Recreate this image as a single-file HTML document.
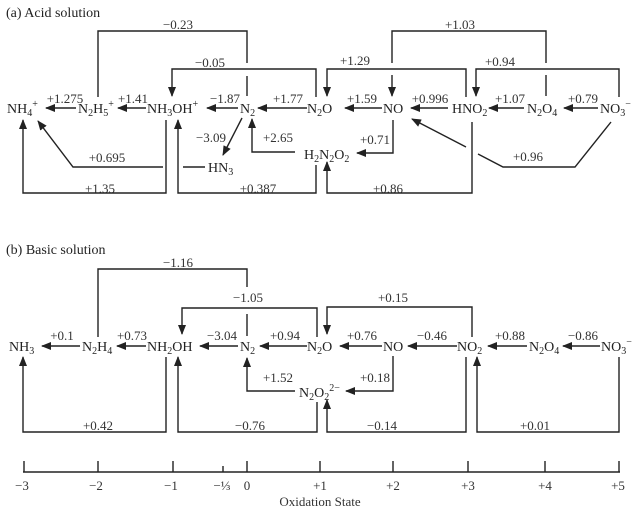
<!DOCTYPE html>
<html><head><meta charset="utf-8"><style>
html,body{margin:0;padding:0;background:#fff}
svg{display:block}
text{font-family:"Liberation Serif",serif;font-size:14px;fill:#222}
.l{font-size:13px;fill:#333}
.s{font-size:10px}
line,polyline{stroke:#222;stroke-width:1.4;fill:none}
</style></head><body>
<svg width="642" height="512" viewBox="0 0 642 512" xmlns="http://www.w3.org/2000/svg">
<defs><marker id="a" markerWidth="10" markerHeight="8" refX="9" refY="4" orient="auto" markerUnits="userSpaceOnUse"><path d="M0,0 L10,4 L0,8 z" fill="#222"/></marker></defs>

<text x="6" y="17">(a) Acid solution</text>
<!-- acid nodes -->
<text x="7" y="113">NH<tspan class="s" dy="3">4</tspan><tspan class="s" dy="-9">+</tspan></text>
<text x="78" y="113">N<tspan class="s" dy="3">2</tspan><tspan dy="-3">H</tspan><tspan class="s" dy="3">5</tspan><tspan class="s" dy="-9">+</tspan></text>
<text x="147" y="113">NH<tspan class="s" dy="3">3</tspan><tspan dy="-3">OH</tspan><tspan class="s" dy="-6">+</tspan></text>
<text x="240" y="113">N<tspan class="s" dy="3">2</tspan></text>
<text x="307" y="113">N<tspan class="s" dy="3">2</tspan><tspan dy="-3">O</tspan></text>
<text x="383" y="113">NO</text>
<text x="452" y="113">HNO<tspan class="s" dy="3">2</tspan></text>
<text x="527" y="113">N<tspan class="s" dy="3">2</tspan><tspan dy="-3">O</tspan><tspan class="s" dy="3">4</tspan></text>
<text x="600" y="113">NO<tspan class="s" dy="3">3</tspan><tspan class="s" dy="-9">−</tspan></text>
<text x="208" y="172">HN<tspan class="s" dy="3">3</tspan></text>
<text x="304" y="159">H<tspan class="s" dy="3">2</tspan><tspan dy="-3">N</tspan><tspan class="s" dy="3">2</tspan><tspan dy="-3">O</tspan><tspan class="s" dy="3">2</tspan></text>

<!-- acid row arrows -->
<line x1="76" y1="108" x2="46" y2="108" marker-end="url(#a)"/>
<line x1="146" y1="108" x2="118" y2="108" marker-end="url(#a)"/>
<line x1="238" y1="108" x2="207" y2="108" marker-end="url(#a)"/>
<line x1="307" y1="108" x2="258" y2="108" marker-end="url(#a)"/>
<line x1="382" y1="108" x2="345" y2="108" marker-end="url(#a)"/>
<line x1="448" y1="108" x2="411" y2="108" marker-end="url(#a)"/>
<line x1="524" y1="108" x2="489" y2="108" marker-end="url(#a)"/>
<line x1="598" y1="108" x2="564" y2="108" marker-end="url(#a)"/>
<g class="l" text-anchor="middle">
<text class="l" x="65" y="103">+1.275</text>
<text class="l" x="133" y="103">+1.41</text>
<text class="l" x="225" y="103">−1.87</text>
<text class="l" x="288" y="103">+1.77</text>
<text class="l" x="362" y="103">+1.59</text>
<text class="l" x="430" y="103">+0.996</text>
<text class="l" x="510" y="103">+1.07</text>
<text class="l" x="583" y="103">+0.79</text>
<text class="l" x="178" y="29">−0.23</text>
<text class="l" x="210" y="67">−0.05</text>
<text class="l" x="355" y="65">+1.29</text>
<text class="l" x="460" y="29">+1.03</text>
<text class="l" x="500" y="66">+0.94</text>
<text class="l" x="107" y="162">+0.695</text>
<text class="l" x="211" y="142">−3.09</text>
<text class="l" x="278" y="142">+2.65</text>
<text class="l" x="375" y="144">+0.71</text>
<text class="l" x="100" y="193">+1.35</text>
<text class="l" x="258" y="193">+0.387</text>
<text class="l" x="388" y="193">+0.86</text>
<text class="l" x="528" y="161">+0.96</text>
</g>
<!-- acid loops -->
<polyline points="98,97 98,31 247,31 247,63"/>
<line x1="247" y1="76" x2="247" y2="96"/>
<polyline points="316,97 316,69 172,69 172,96" marker-end="url(#a)"/>
<polyline points="466,97 466,69 327,69 327,96" marker-end="url(#a)"/>
<polyline points="392,63 392,31 546,31 546,63"/>
<line x1="392" y1="75" x2="392" y2="96" marker-end="url(#a)"/>
<line x1="546" y1="75" x2="546" y2="96"/>
<polyline points="619,97 619,69 476,69 476,96" marker-end="url(#a)"/>
<!-- acid below -->
<polyline points="166,120 166,193 23,193 23,120" marker-end="url(#a)"/>
<polyline points="163,167 73,167 38,121" marker-end="url(#a)"/>
<line x1="183" y1="167" x2="205" y2="167"/>
<line x1="242" y1="118" x2="223" y2="155" marker-end="url(#a)"/>
<polyline points="295,152 252,152 252,119" marker-end="url(#a)"/>
<polyline points="393,120 393,153 357,153" marker-end="url(#a)"/>
<polyline points="316,165 316,193 178,193 178,120" marker-end="url(#a)"/>
<polyline points="472,122 472,193 327,193 327,162" marker-end="url(#a)"/>
<polyline points="611,122 575,167 503,167 478,154"/>
<line x1="466" y1="147" x2="412" y2="119" marker-end="url(#a)"/>

<!-- basic -->
<text x="6" y="254">(b) Basic solution</text>
<text x="9" y="351">NH<tspan class="s" dy="3">3</tspan></text>
<text x="82" y="351">N<tspan class="s" dy="3">2</tspan><tspan dy="-3">H</tspan><tspan class="s" dy="3">4</tspan></text>
<text x="147" y="351">NH<tspan class="s" dy="3">2</tspan><tspan dy="-3">OH</tspan></text>
<text x="240" y="351">N<tspan class="s" dy="3">2</tspan></text>
<text x="307" y="351">N<tspan class="s" dy="3">2</tspan><tspan dy="-3">O</tspan></text>
<text x="383" y="351">NO</text>
<text x="457" y="351">NO<tspan class="s" dy="3">2</tspan></text>
<text x="529" y="351">N<tspan class="s" dy="3">2</tspan><tspan dy="-3">O</tspan><tspan class="s" dy="3">4</tspan></text>
<text x="601" y="351">NO<tspan class="s" dy="3">3</tspan><tspan class="s" dy="-9">−</tspan></text>
<text x="299" y="397">N<tspan class="s" dy="3">2</tspan><tspan dy="-3">O</tspan><tspan class="s" dy="3">2</tspan><tspan class="s" dy="-9">2−</tspan></text>

<line x1="80" y1="346" x2="42" y2="346" marker-end="url(#a)"/>
<line x1="146" y1="346" x2="117" y2="346" marker-end="url(#a)"/>
<line x1="238" y1="346" x2="200" y2="346" marker-end="url(#a)"/>
<line x1="307" y1="346" x2="260" y2="346" marker-end="url(#a)"/>
<line x1="382" y1="346" x2="340" y2="346" marker-end="url(#a)"/>
<line x1="457" y1="346" x2="408" y2="346" marker-end="url(#a)"/>
<line x1="527" y1="346" x2="488" y2="346" marker-end="url(#a)"/>
<line x1="600" y1="346" x2="563" y2="346" marker-end="url(#a)"/>
<g text-anchor="middle">
<text class="l" x="62" y="340">+0.1</text>
<text class="l" x="132" y="340">+0.73</text>
<text class="l" x="222" y="340">−3.04</text>
<text class="l" x="285" y="340">+0.94</text>
<text class="l" x="362" y="340">+0.76</text>
<text class="l" x="432" y="340">−0.46</text>
<text class="l" x="510" y="340">+0.88</text>
<text class="l" x="583" y="340">−0.86</text>
<text class="l" x="178" y="267">−1.16</text>
<text class="l" x="248" y="302">−1.05</text>
<text class="l" x="393" y="302">+0.15</text>
<text class="l" x="278" y="382">+1.52</text>
<text class="l" x="375" y="382">+0.18</text>
<text class="l" x="98" y="430">+0.42</text>
<text class="l" x="250" y="430">−0.76</text>
<text class="l" x="382" y="430">−0.14</text>
<text class="l" x="535" y="430">+0.01</text>
</g>
<polyline points="98,337 98,269 247,269 247,287"/>
<line x1="247" y1="314" x2="247" y2="336"/>
<polyline points="317,337 317,308 182,308 182,334" marker-end="url(#a)"/>
<polyline points="472,337 472,307 327,307 327,334" marker-end="url(#a)"/>
<polyline points="295,391 247,391 247,358" marker-end="url(#a)"/>
<polyline points="393,356 393,391 346,391" marker-end="url(#a)"/>
<polyline points="166,357 166,432 23,432 23,357" marker-end="url(#a)"/>
<polyline points="317,402 317,432 178,432 178,357" marker-end="url(#a)"/>
<polyline points="466,357 466,432 327,432 327,400" marker-end="url(#a)"/>
<polyline points="619,357 619,432 477,432 477,357" marker-end="url(#a)"/>

<!-- axis -->
<line x1="23" y1="472" x2="620" y2="472"/>
<g>
<line x1="24" y1="461" x2="24" y2="472"/><line x1="98" y1="461" x2="98" y2="472"/>
<line x1="173" y1="461" x2="173" y2="472"/><line x1="223" y1="466" x2="223" y2="472"/>
<line x1="247" y1="461" x2="247" y2="472"/><line x1="320" y1="461" x2="320" y2="472"/>
<line x1="393" y1="461" x2="393" y2="472"/><line x1="468" y1="461" x2="468" y2="472"/>
<line x1="545" y1="461" x2="545" y2="472"/><line x1="619" y1="461" x2="619" y2="472"/>
</g>
<g text-anchor="middle">
<text class="l" x="22" y="490">−3</text><text class="l" x="96" y="490">−2</text>
<text class="l" x="171" y="490">−1</text><text class="l" x="222" y="490">−⅓</text>
<text class="l" x="247" y="490">0</text><text class="l" x="320" y="490">+1</text>
<text class="l" x="393" y="490">+2</text><text class="l" x="468" y="490">+3</text>
<text class="l" x="545" y="490">+4</text><text class="l" x="618" y="490">+5</text>
<text class="l" x="320" y="506">Oxidation State</text>
</g>
</svg>
</body></html>
